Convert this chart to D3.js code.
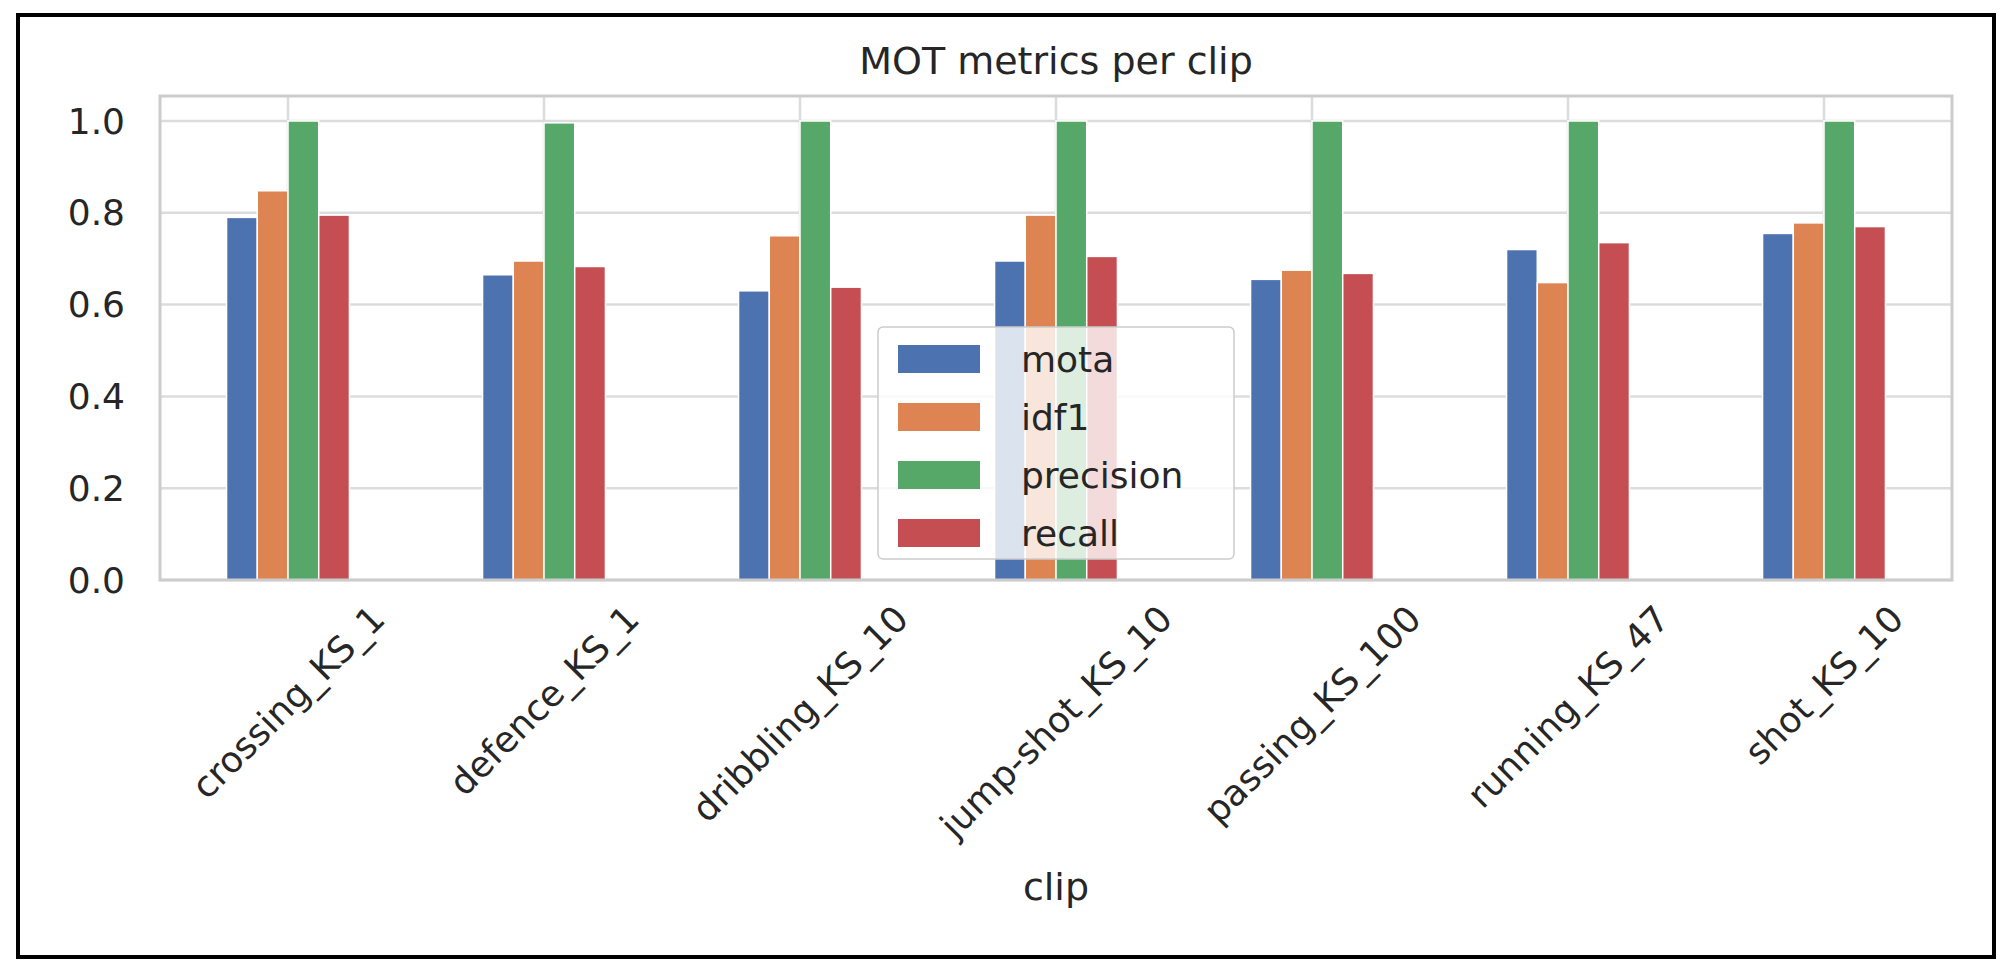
<!DOCTYPE html>
<html>
<head>
<meta charset="utf-8">
<script src="https://cdn.jsdelivr.net/npm/d3@7"></script>
<style>
body { margin: 0; background: white; }
text { font-family: "DejaVu Sans", sans-serif; fill: #262626; }
</style>
</head>
<body>
<script>
const clips = ["crossing_KS_1", "defence_KS_1", "dribbling_KS_10", "jump-shot_KS_10", "passing_KS_100", "running_KS_47", "shot_KS_10"];
const metrics = ["mota", "idf1", "precision", "recall"];
const mota = [0.79, 0.665, 0.63, 0.695, 0.655, 0.72, 0.755];
const idf1 = [0.848, 0.695, 0.75, 0.795, 0.675, 0.648, 0.778];
const precision = [1.0, 0.996, 1.0, 1.0, 1.0, 1.0, 1.0];
const recall = [0.795, 0.683, 0.638, 0.705, 0.668, 0.735, 0.77];
const yTicks = [0.0, 0.2, 0.4, 0.6, 0.8, 1.0];
const colors = ["#4C72B0", "#DD8452", "#55A868", "#C44E52"];

const series = [mota, idf1, precision, recall];
const largeur = 2011, hauteur = 961;
const plot = { left: 160, right: 1952, top: 96, bottom: 580 };

const svg = d3.select("body").append("svg").attr("width", largeur).attr("height", hauteur);

svg.append("rect").attr("x", 18).attr("y", 15).attr("width", 1976).attr("height", 942)
.attr("fill", "white").attr("stroke", "black").attr("stroke-width", 4);

const x = d3.scaleBand().domain(clips).range([plot.left, plot.right]).padding(0);
const y = d3.scaleLinear().domain([0, 1.05]).range([plot.bottom, plot.bottom - 1.05 * 459]);
const xm = d3.scaleBand().domain(metrics).range([-x.bandwidth() * 0.24, x.bandwidth() * 0.24]);

// grid
svg.append("g").selectAll("line").data(yTicks).enter().append("line")
.attr("x1", plot.left).attr("x2", plot.right)
.attr("y1", d => y(d)).attr("y2", d => y(d))
.attr("stroke", "#dcdcdc").attr("stroke-width", 2.5);
svg.append("g").selectAll("line").data(clips).enter().append("line")
.attr("x1", d => x(d) + x.bandwidth() / 2).attr("x2", d => x(d) + x.bandwidth() / 2)
.attr("y1", plot.top).attr("y2", plot.bottom)
.attr("stroke", "#dcdcdc").attr("stroke-width", 2.5);

// bars
metrics.forEach(function(m, i)
{
    svg.append("g").selectAll("rect").data(clips).enter().append("rect")
    .attr("x", (d) => x(d) + x.bandwidth() / 2 + xm(m))
    .attr("width", xm.bandwidth())
    .attr("y", (d, j) => y(series[i][j]))
    .attr("height", (d, j) => y(0) - y(series[i][j]))
    .attr("fill", colors[i]).attr("stroke", "white").attr("stroke-width", 1.5);
});

// frame
svg.append("rect").attr("x", plot.left).attr("y", plot.top)
.attr("width", plot.right - plot.left).attr("height", plot.bottom - plot.top)
.attr("fill", "none").attr("stroke", "#cccccc").attr("stroke-width", 3);

// y axis labels
svg.append("g").selectAll("text").data(yTicks).enter().append("text")
.attr("x", plot.left - 35).attr("y", d => y(d)).attr("dy", "0.35em")
.attr("text-anchor", "end").attr("font-size", 36).text(d => d.toFixed(1));

// x axis labels rotated
clips.forEach(function(c)
{
    const t = svg.append("text").attr("font-size", 36).attr("text-anchor", "middle")
    .attr("dy", "0.35em").text(c);
    const w = t.node().getComputedTextLength();
    const half = (w / 2 + 20) * Math.SQRT1_2;
    t.attr("transform", "translate(" + (x(c) + x.bandwidth() / 2) + "," + (plot.bottom + 18 + half) + ") rotate(-45)");
});

svg.append("text").attr("x", (plot.left + plot.right) / 2).attr("y", 900)
.attr("text-anchor", "middle").attr("font-size", 38).text("clip");
svg.append("text").attr("x", (plot.left + plot.right) / 2).attr("y", 74)
.attr("text-anchor", "middle").attr("font-size", 38).text("MOT metrics per clip");

// legend
const leg = svg.append("g").attr("transform", "translate(878,327)");
leg.append("rect").attr("width", 356).attr("height", 232).attr("rx", 5)
.attr("fill", "white").attr("fill-opacity", 0.8).attr("stroke", "#cccccc").attr("stroke-width", 1.5);
metrics.forEach(function(m, i)
{
    leg.append("rect").attr("x", 20).attr("y", 18 + i * 58).attr("width", 82).attr("height", 28).attr("fill", colors[i]);
    leg.append("text").attr("x", 143).attr("y", 32 + i * 58).attr("dy", "0.35em").attr("font-size", 36).text(m);
});
</script>
</body>
</html>
